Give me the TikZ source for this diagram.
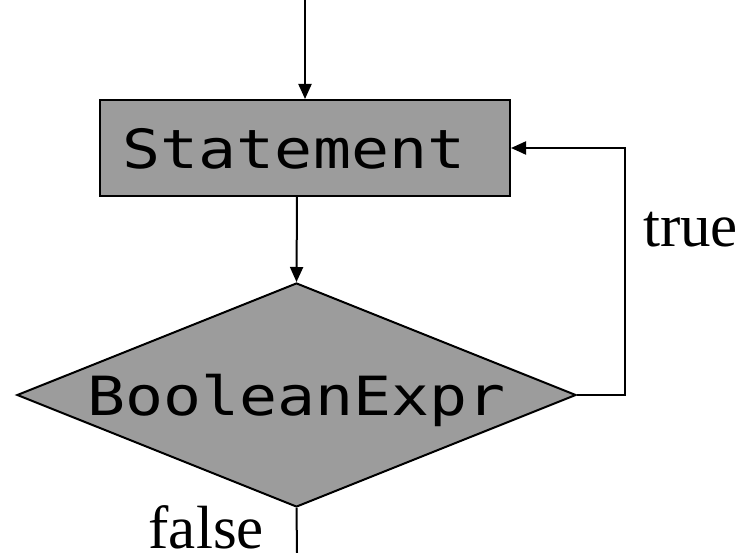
\documentclass[tikz,border=0pt]{standalone}
\usepackage{fontspec}
\setmainfont{Liberation Serif}
\newfontfamily\codefont{DejaVu Sans Mono}[FakeStretch=1.17]
\usetikzlibrary{shapes.geometric,arrows.meta}
\definecolor{boxgray}{RGB}{156,156,156}
\tikzset{
  flowbox/.style={draw=black, line width=2pt, fill=boxgray, inner sep=0pt},
  codetext/.style={font=\fontsize{54}{54}\selectfont\codefont, inner sep=0pt, anchor=base},
  labeltext/.style={font=\fontsize{61}{61}\selectfont, inner sep=0pt},
  flow/.style={draw=black, line width=2pt, -{Triangle[length=15pt,width=13pt]}},
  plainflow/.style={draw=black, line width=2pt}
}
\begin{document}
\begin{tikzpicture}[x=1pt, y=-1pt]
  \useasboundingbox (0,0) rectangle (746,553);
  % process box and decision diamond
  \node[flowbox, rectangle, minimum width=410pt, minimum height=96pt] (stmt) at (305,148) {};
  \node[codetext] (stmttext) at (294,169) {Statement};
  \node[flowbox, diamond, minimum width=559pt, minimum height=224pt] (cond) at (296.5,395) {};
  \node[codetext] (condtext) at (296.5,415) {BooleanExpr};
  % connector end points
  \coordinate (entry) at (305,0);
  \coordinate (exit) at (297,553);
  \coordinate (loopbot) at (625,395);
  \coordinate (looptop) at (625,148);
  % connectors
  \draw[flow] (entry) -- (stmt.north);
  \draw[flow] (297,196) -- (cond.north);
  \draw[flow] (cond.east) -- (loopbot) -- (looptop) -- (stmt.east);
  \draw[plainflow] (cond.south) -- (exit);
  % branch labels
  \node[labeltext, anchor=base west] (truelbl) at (643,247) {true};
  \node[labeltext, anchor=base east] (falselbl) at (264,548) {false};
\end{tikzpicture}
\end{document}
